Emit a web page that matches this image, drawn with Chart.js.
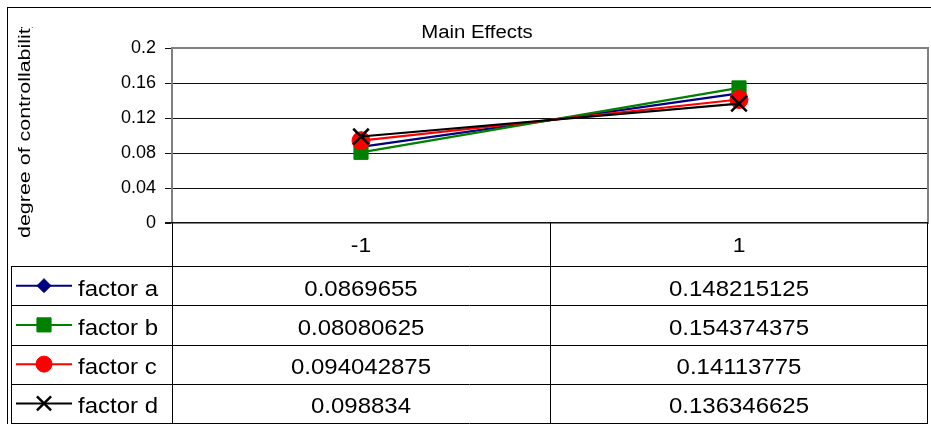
<!DOCTYPE html>
<html>
<head>
<meta charset="utf-8">
<title>Main Effects</title>
<script src="https://cdn.jsdelivr.net/npm/chart.js@4.4.1/dist/chart.umd.min.js"></script>
<style>
  html, body { margin: 0; padding: 0; background: #fff; }
  #wrap { width: 931px; height: 424px; position: relative; }
</style>
</head>
<body>
<div id="wrap"><canvas id="effects"></canvas></div>
<script>
// factor levels and mean response per level
const levels = ['-1', '1'];
const seriesNames = ['factor a', 'factor b', 'factor c', 'factor d'];
const factorA = [0.0869655, 0.148215125];
const factorB = [0.08080625, 0.154374375];
const factorC = [0.094042875, 0.14113775];
const factorD = [0.098834, 0.136346625];
const yTickLabels = ['0', '0.04', '0.08', '0.12', '0.16', '0.2'];

const FONT = '"Liberation Sans", Arial, sans-serif';

const looks = [
  { color: '#000080', pointStyle: 'rectRot', radius: 7, border: 1, keyRadius: 7 },
  { color: '#008000', pointStyle: 'rect', radius: 10, border: 1, keyRadius: 10 },
  { color: '#ff0000', pointStyle: 'circle', radius: 9, border: 1, keyRadius: 8 },
  { color: '#000000', pointStyle: 'crossRot', radius: 11, border: 2.5, keyRadius: 10 }
];

const allSeries = [factorA, factorB, factorC, factorD];

// text helper - excel spreads the glyphs a bit wider than the canvas does
function wideText(ctx, text, x, y, size, sx, align) {
  ctx.save();
  ctx.font = size + 'px ' + FONT;
  ctx.fillStyle = '#000';
  ctx.textAlign = align || 'center';
  ctx.textBaseline = 'alphabetic';
  ctx.translate(x, y);
  ctx.scale(sx, 1);
  ctx.fillText(text, 0, 0);
  ctx.restore();
}

function hLine(ctx, x1, x2, y) {
  y = Math.round(y) + 0.5;
  ctx.beginPath();
  ctx.moveTo(x1, y);
  ctx.lineTo(x2, y);
  ctx.stroke();
}

function vLine(ctx, x, y1, y2) {
  x = Math.round(x) + 0.5;
  ctx.beginPath();
  ctx.moveTo(x, y1);
  ctx.lineTo(x, y2);
  ctx.stroke();
}

const dataTable = {
  id: 'dataTable',
  beforeDatasetsDraw(chart) {
    const { ctx, chartArea: a } = chart;
    ctx.save();
    ctx.strokeStyle = '#808080';
    ctx.lineWidth = 2;
    ctx.strokeRect(a.left, a.top, a.right - a.left, a.bottom - a.top);
    // the zero line stays dark on top of the frame
    ctx.strokeStyle = '#111';
    ctx.lineWidth = 1;
    hLine(ctx, a.left - 7, a.right, a.bottom - 1);
    ctx.restore();
  },
  afterDraw(chart) {
    const { ctx, chartArea: a } = chart;
    const xs = chart.scales.x;
    const mid = (xs.getPixelForValue(0) + xs.getPixelForValue(1)) / 2;
    const tableLeft = 11;
    const tableBottom = 423;
    const headBottom = 266;
    const rowH = (tableBottom - headBottom) / seriesNames.length;

    ctx.save();
    // outer chart frame
    ctx.strokeStyle = '#000';
    ctx.lineWidth = 1;
    ctx.strokeRect(7.5, 7.5, 940, 440);

    // title
    wideText(ctx, 'Main Effects', 477, 38, 18, 1.13);

    // rotated y axis title, clipped at the top like the original frame
    ctx.save();
    ctx.beginPath();
    ctx.rect(8, 27, 40, 230);
    ctx.clip();
    ctx.translate(30, 238);
    ctx.rotate(-Math.PI / 2);
    ctx.font = '16px ' + FONT;
    ctx.fillStyle = '#000';
    ctx.textAlign = 'left';
    ctx.scale(1.34, 1);
    ctx.fillText('degree of controllability', 0, 0);
    ctx.restore();

    // table grid
    ctx.strokeStyle = '#000';
    ctx.lineWidth = 1;
    vLine(ctx, a.left, a.bottom, tableBottom);
    vLine(ctx, mid, a.bottom, tableBottom);
    vLine(ctx, a.right - 1, a.bottom, tableBottom);
    vLine(ctx, tableLeft, headBottom, tableBottom);
    for (let i = 0; i <= seriesNames.length; i++) {
      hLine(ctx, tableLeft, a.right, headBottom + i * rowH);
    }

    // column headers
    levels.forEach((lv, i) => {
      wideText(ctx, lv, xs.getPixelForValue(i), 252, 21, 1.09);
    });

    // one row per factor: legend key, name, values
    seriesNames.forEach((name, r) => {
      const cy = headBottom + r * rowH + rowH / 2;
      const lk = looks[r];
      ctx.strokeStyle = lk.color;
      ctx.fillStyle = lk.color;
      ctx.lineWidth = 2;
      ctx.beginPath();
      ctx.moveTo(16, cy);
      ctx.lineTo(72, cy);
      ctx.stroke();
      ctx.lineWidth = lk.border;
      Chart.helpers.drawPoint(ctx, {
        pointStyle: lk.pointStyle,
        radius: lk.keyRadius,
        rotation: 0,
        borderWidth: lk.border
      }, 44, cy);

      wideText(ctx, name, 78, cy + 10, 22, 1.09, 'left');
      allSeries[r].forEach((v, i) => {
        wideText(ctx, String(v), xs.getPixelForValue(i), cy + 10, 22, 1.09);
      });
    });
    ctx.restore();
  }
};

const datasets = allSeries.map((vals, i) => ({
  label: seriesNames[i],
  data: vals,
  borderColor: looks[i].color,
  backgroundColor: looks[i].color,
  borderWidth: 2.2,
  tension: 0,
  pointStyle: looks[i].pointStyle,
  pointRadius: looks[i].radius,
  pointBorderWidth: looks[i].border,
  pointBackgroundColor: looks[i].color,
  pointBorderColor: looks[i].color,
  order: allSeries.length - i
}));

new Chart(document.getElementById('effects'), {
  type: 'line',
  data: { labels: levels, datasets: datasets },
  options: {
    responsive: true,
    maintainAspectRatio: false,
    animation: false,
    devicePixelRatio: 1,
    events: [],
    layout: {
      autoPadding: false,
      padding: { left: 0, top: 48, right: 3, bottom: 201 }
    },
    plugins: {
      legend: { display: false },
      tooltip: { enabled: false },
      title: { display: false }
    },
    scales: {
      x: {
        type: 'category',
        display: false,
        offset: true
      },
      y: {
        min: 0,
        max: 0.2,
        afterFit: (scale) => { scale.width = 172; },
        border: { display: false },
        grid: {
          color: '#111',
          lineWidth: 1,
          tickLength: 7,
          tickColor: '#111'
        },
        ticks: {
          stepSize: 0.04,
          padding: 9,
          color: '#000',
          font: { family: FONT, size: 18 },
          callback: (v, i) => yTickLabels[i]
        }
      }
    }
  },
  plugins: [dataTable]
});
</script>
</body>
</html>
